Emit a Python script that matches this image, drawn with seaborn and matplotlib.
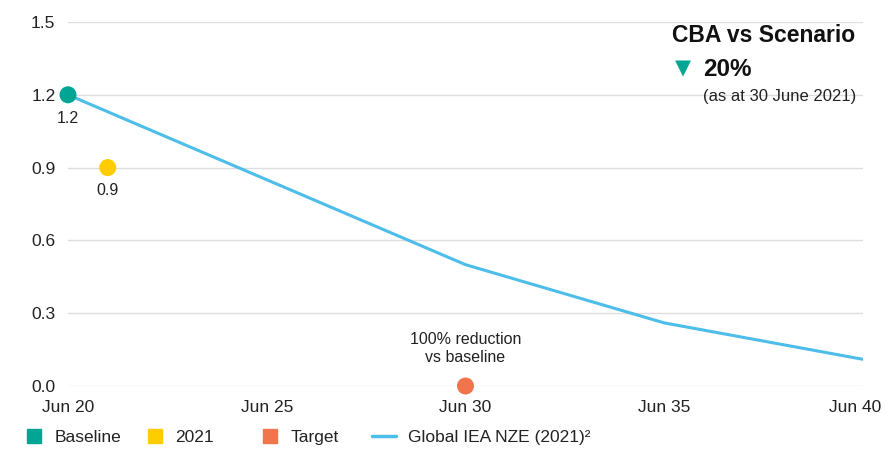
import matplotlib
matplotlib.use("Agg")
import matplotlib.pyplot as plt
import matplotlib.transforms as mtransforms
from matplotlib.lines import Line2D
import seaborn as sns
import pandas as pd

# ---- data ----
nze_years = [2020, 2030, 2035, 2040]
nze_values = [1.2, 0.5, 0.26, 0.11]

point_names = ["Baseline", "2021", "Target"]
point_years = [2020, 2021, 2030]
point_values = [1.2, 0.9, 0.0]
point_colors = ["#00a693", "#ffcc00", "#f0744c"]

x_ticks = [2020, 2025, 2030, 2035, 2040]
x_labels = ["Jun 20", "Jun 25", "Jun 30", "Jun 35", "Jun 40"]
y_ticks = [0.0, 0.3, 0.6, 0.9, 1.2, 1.5]

line_color = "#4dbde9"
text_color = "#222222"

sns.set_style("white")
plt.rcParams["font.family"] = ["Liberation Sans", "DejaVu Sans"]

fig = plt.figure(figsize=(8.87, 4.5), dpi=100)
ax = fig.add_axes([68 / 887, 1 - 386 / 450, (863 - 68) / 887, (386 - 22) / 450])

nze_df = pd.DataFrame({"year": nze_years, "value": nze_values})
sns.lineplot(data=nze_df, x="year", y="value", color=line_color, lw=2.2, ax=ax, zorder=2)

pts_df = pd.DataFrame({"year": point_years, "value": point_values, "name": point_names})
sns.scatterplot(data=pts_df, x="year", y="value", hue="name", palette=point_colors,
                s=150, edgecolor="none", ax=ax, legend=False, zorder=3, clip_on=False)

# data labels
ax.text(point_years[0], point_values[0] - 0.065, "1.2", ha="center", va="top", fontsize=11.5, color=text_color)
ax.text(point_years[1], point_values[1] - 0.065, "0.9", ha="center", va="top", fontsize=11.5, color=text_color)
ax.text(point_years[2], point_values[2] + 0.085, "100% reduction\nvs baseline", ha="center", va="bottom",
        fontsize=11.5, color=text_color, linespacing=1.3)

ax.set_xlim(2020, 2040)
ax.set_ylim(0, 1.5)
ax.set_xticks(x_ticks)
ax.set_xticklabels(x_labels)
ax.set_yticks(y_ticks)
ax.set_yticklabels([f"{v:.1f}" for v in y_ticks])
ax.tick_params(axis="both", length=0, labelsize=12.5, colors=text_color)
ax.tick_params(axis="y", pad=9)
ax.tick_params(axis="x", pad=10)
ax.grid(axis="y", color="#dddddd", lw=1)
ax.set_axisbelow(True)
for s in ax.spines.values():
    s.set_visible(False)
ax.set_xlabel("")
ax.set_ylabel("")

# last x label pulled inside the canvas, like the original
last = ax.get_xticklabels()[-1]
last.set_transform(last.get_transform() + mtransforms.ScaledTranslation(-8 / 100, 0, fig.dpi_scale_trans))

# headline box
fig.text(672 / 887, 1 - 35 / 450, "CBA vs Scenario", fontsize=16.5, fontweight="bold",
         color="#111111", va="center", ha="left")
fig.text(675 / 887, 1 - 68 / 450, "\u25BC", fontsize=15, color="#00a693", va="center", ha="left",
         family=["DejaVu Sans"])
fig.text(703 / 887, 1 - 70 / 450, "20%", fontsize=17.5, fontweight="bold",
         color="#111111", va="center", ha="left")
fig.text(703 / 887, 1 - 96 / 450, "(as at 30 June 2021)", fontsize=12,
         color=text_color, va="center", ha="left")

# legend, one entry at a time so the spacing follows the original
legend_x = [25, 146, 261, 372]
handles = [Line2D([], [], marker="s", ls="none", color=c, markersize=10.5) for c in point_colors]
handles.append(Line2D([], [], color=line_color, lw=2.5))
labels = point_names + ["Global IEA NZE (2021)\u00b2"]
for i, (h, lab, x) in enumerate(zip(handles, labels, legend_x)):
    fig.legend([h], [lab], loc="center left", bbox_to_anchor=(x / 887, 1 - 437 / 450),
               frameon=False, fontsize=12.5, borderpad=0, borderaxespad=0,
               handlelength=1.0 if i < 3 else 1.4, handletextpad=0.7,
               labelcolor=text_color)

fig.savefig("out.png", dpi=100)
